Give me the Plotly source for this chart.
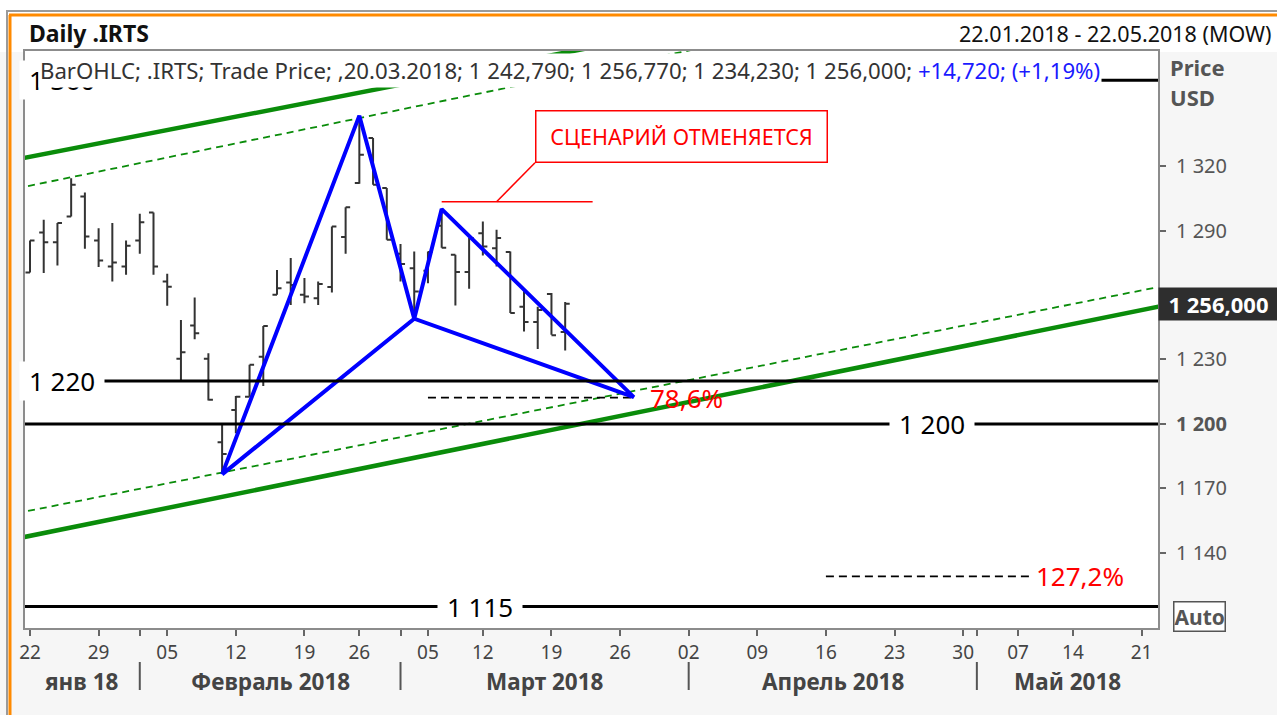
import plotly.graph_objects as go
import pandas as pd

# ---------------- data ----------------
dates = ["2018-01-22", "2018-01-23", "2018-01-24", "2018-01-25", "2018-01-26",
         "2018-01-29", "2018-01-30", "2018-01-31", "2018-02-01", "2018-02-02",
         "2018-02-05", "2018-02-06", "2018-02-07", "2018-02-08", "2018-02-09",
         "2018-02-12", "2018-02-13", "2018-02-14", "2018-02-15", "2018-02-16",
         "2018-02-19", "2018-02-20", "2018-02-21", "2018-02-22",
         "2018-02-26", "2018-02-27", "2018-02-28", "2018-03-01", "2018-03-02",
         "2018-03-05", "2018-03-06", "2018-03-07", "2018-03-09",
         "2018-03-12", "2018-03-13", "2018-03-14", "2018-03-15", "2018-03-16",
         "2018-03-19", "2018-03-20"]
opens = [1270.5, 1289.1, 1284.6, 1296.6, 1305.9,
         1285.4, 1273.3, 1273.3, 1285.4, 1298.4,
         1266.3, 1230.3, 1245.8, 1230.3, 1191.5,
         1206.5, 1212.7, 1231.3, 1260.1, 1265.8,
         1260.1, 1258.5, 1263.7, 1287.0,
         1312.1, 1333.1, 1309.8, 1279.2, 1272.5,
         1271.3, 1292.2, 1278.7, 1270.7,
         1288.8, 1281.8, 1280.0, 1254.6, 1247.4,
         1260.5, 1242.79]
highs = [1285.4, 1295.0, 1293.5, 1314.4, 1307.7,
         1291.1, 1293.5, 1285.4, 1297.8, 1298.4,
         1269.9, 1248.4, 1258.8, 1232.9, 1200.3,
         1213.0, 1227.5, 1245.6, 1271.7, 1277.2,
         1267.9, 1266.3, 1291.9, 1300.9,
         1343.3, 1333.1, 1309.8, 1283.8, 1280.3,
         1280.3, 1300.0, 1278.7, 1286.5,
         1294.2, 1290.4, 1280.3, 1262.4, 1254.6,
         1260.9, 1256.77]
lows = [1270.5, 1270.2, 1273.7, 1296.6, 1281.5,
        1273.0, 1266.3, 1269.4, 1279.2, 1269.4,
        1255.0, 1220.5, 1239.4, 1210.9, 1177.0,
        1195.7, 1212.7, 1217.7, 1260.1, 1255.4,
        1256.2, 1255.4, 1261.2, 1279.2,
        1311.8, 1311.3, 1285.7, 1266.3, 1249.5,
        1265.5, 1282.0, 1255.1, 1262.9,
        1278.4, 1273.3, 1251.6, 1243.0, 1234.9,
        1241.5, 1234.23]
closes = [1285.4, 1284.6, 1293.5, 1311.3, 1287.2,
          1276.1, 1275.1, 1282.9, 1293.9, 1273.3,
          1263.9, 1233.4, 1242.2, 1211.2, 1186.0,
          1212.7, 1227.5, 1245.6, 1263.2, 1264.7,
          1259.3, 1265.1, 1291.9, 1300.9,
          1325.3, 1311.3, 1285.7, 1274.4, 1261.6,
          1280.0, 1282.0, 1270.7, 1286.5,
          1282.6, 1286.5, 1251.6, 1247.4, 1253.0,
          1241.3, 1256.00]

holidays = ["2018-02-23", "2018-03-08", "2018-05-01", "2018-05-09"]

# harmonic pattern X-A-B-C-D (drawn as one polyline)
pattern_dates = ["2018-02-09", "2018-02-26", "2018-03-02", "2018-03-06",
                 "2018-03-27", "2018-03-02", "2018-02-09"]
pattern_values = [1176.5, 1343.5, 1249.0, 1300.0, 1212.5, 1249.0, 1176.5]

# horizontal levels
level_values = [1360, 1220, 1200, 1115]
level_labels = ["1 360", "1 220", "1 200", "1 115"]

# channel lines (two anchors each)
channel_dates = ["2018-01-19", "2018-05-23"]
upper_solid = [1323.1, 1427.6]
upper_dash = [1309.6, 1419.7]
lower_solid = [1146.6, 1255.6]
lower_dash = [1158.4, 1264.7]

fib786_dates = ["2018-03-05", "2018-03-27"]
fib786_value = 1212.2
fib1272_dates = ["2018-04-16", "2018-05-08"]
fib1272_value = 1129.0

cancel_dates = ["2018-03-06", "2018-03-22"]
cancel_value = 1303.4

tick_dates = ["2018-01-22", "2018-01-29", "2018-02-05", "2018-02-12", "2018-02-19",
              "2018-02-26", "2018-03-05", "2018-03-12", "2018-03-19", "2018-03-26",
              "2018-04-02", "2018-04-09", "2018-04-16", "2018-04-23", "2018-04-30",
              "2018-05-07", "2018-05-14", "2018-05-21"]
month_starts = ["2018-02-01", "2018-03-01", "2018-04-02", "2018-05-02"]
month_labels = ["янв 18", "Февраль 2018", "Март 2018", "Апрель 2018", "Май 2018"]

# ---------------- trading-day scale ----------------
cal = [d.strftime("%Y-%m-%d") for d in pd.bdate_range("2018-01-15", "2018-05-31")]
cal = [d for d in cal if d not in holidays]
base = cal.index("2018-01-22")
pos = {d: i - base for i, d in enumerate(cal)}

X_RANGE = [-0.364, 82.2]
Y_RANGE = [1105.0, 1373.6]

# pixel layout helpers
L, R, T, B = 25, 1158, 51, 628
W, H = 1277, 715
def pxx(px):
    return (px - L) / (R - L)
def pxy(py):
    return (B - py) / (B - T)

FONT = "Noto Sans"
fig = go.Figure()

# channel lines
GREEN = "#0a8c0a"
cx = [pos[d] for d in channel_dates]
fig.add_trace(go.Scatter(x=cx, y=upper_solid, mode="lines", line=dict(color=GREEN, width=4.5), hoverinfo="skip"))
fig.add_trace(go.Scatter(x=cx, y=lower_solid, mode="lines", line=dict(color=GREEN, width=4.5), hoverinfo="skip"))
fig.add_trace(go.Scatter(x=cx, y=upper_dash, mode="lines", line=dict(color=GREEN, width=1.8, dash="7px,5px"), hoverinfo="skip"))
fig.add_trace(go.Scatter(x=cx, y=lower_dash, mode="lines", line=dict(color=GREEN, width=1.8, dash="7px,5px"), hoverinfo="skip"))

# horizontal levels
for v in level_values:
    fig.add_shape(type="line", xref="paper", yref="y", x0=0, x1=1, y0=v, y1=v,
                  line=dict(color="black", width=3), layer="above")

# fib dashed lines
fig.add_trace(go.Scatter(x=[pos[d] for d in fib786_dates], y=[fib786_value] * 2, mode="lines",
                         line=dict(color="black", width=1.8, dash="8px,5px"), hoverinfo="skip"))
fig.add_trace(go.Scatter(x=[pos[d] for d in fib1272_dates], y=[fib1272_value] * 2, mode="lines",
                         line=dict(color="black", width=1.8, dash="8px,5px"), hoverinfo="skip"))

# cancel level (red)
fig.add_trace(go.Scatter(x=[pos[d] for d in cancel_dates], y=[cancel_value] * 2, mode="lines",
                         line=dict(color="red", width=1.5), hoverinfo="skip"))

# OHLC bars
fig.add_trace(go.Ohlc(x=[pos[d] for d in dates], open=opens, high=highs, low=lows, close=closes,
                      increasing=dict(line=dict(color="#333333", width=2)),
                      decreasing=dict(line=dict(color="#333333", width=2)),
                      tickwidth=0.33, hoverinfo="skip"))

# pattern
fig.add_trace(go.Scatter(x=[pos[d] for d in pattern_dates], y=pattern_values, mode="lines",
                         line=dict(color="#0000ff", width=4), hoverinfo="skip"))

# red connector from cancel line to box corner
box_x0, box_x1 = 36.8, 58.1
box_y0, box_y1 = 1321.6, 1346.3
fig.add_shape(type="line", xref="x", yref="y", x0=pos["2018-03-13"], y0=cancel_value,
              x1=box_x0, y1=box_y0, line=dict(color="red", width=1.5))

annotations = []
# level labels
label_px = {1360: 62, 1220: 62, 1200: 932, 1115: 480}
for v, t in zip(level_values, level_labels):
    annotations.append(dict(text=t, xref="paper", yref="y", x=pxx(label_px[v]), y=v,
                            showarrow=False, font=dict(family=FONT, size=26, color="black"),
                            bgcolor="white", width=82, xanchor="center", yanchor="middle"))

# legend/info line
annotations.append(dict(
    text="BarOHLC; .IRTS; Trade Price; ,20.03.2018; 1 242,790; 1 256,770; 1 234,230; 1 256,000; "
         "<span style='color:#1a1aff'>+14,720; (+1,19%)</span>",
    xref="paper", yref="paper", x=pxx(38), y=pxy(70), xanchor="left", yanchor="middle",
    showarrow=False, bgcolor="white", font=dict(family=FONT, size=22.2, color="#333333")))

# box text
annotations.append(dict(text="СЦЕНАРИЙ ОТМЕНЯЕТСЯ", xref="x", yref="y",
                        x=(box_x0 + box_x1) / 2, y=(box_y0 + box_y1) / 2,
                        showarrow=False, font=dict(family=FONT, size=21.5, color="red"),
                        bordercolor="red", borderwidth=1.5, borderpad=0,
                        width=290, height=50, bgcolor="white"))
# fib labels
annotations.append(dict(text="78,6%", xref="x", yref="y", x=pos[fib786_dates[1]], y=fib786_value,
                        xanchor="left", yanchor="middle", xshift=14, showarrow=False,
                        font=dict(family=FONT, size=26, color="red")))
annotations.append(dict(text="127,2%", xref="x", yref="y", x=pos[fib1272_dates[1]], y=fib1272_value,
                        xanchor="left", yanchor="middle", xshift=2, showarrow=False,
                        font=dict(family=FONT, size=26, color="red")))

# header
annotations.append(dict(text="<b>Daily .IRTS</b>", xref="paper", yref="paper", x=pxx(27), y=pxy(33),
                        xanchor="left", yanchor="middle", showarrow=False,
                        font=dict(family=FONT, size=23, color="#111111")))
annotations.append(dict(text="22.01.2018 - 22.05.2018 (MOW)", xref="paper", yref="paper",
                        x=pxx(1273), y=pxy(33), xanchor="right", yanchor="middle", showarrow=False,
                        font=dict(family=FONT, size=21.5, color="#111111")))
# right axis captions
annotations.append(dict(text="<b>Price</b>", xref="paper", yref="paper", x=pxx(1168), y=pxy(67),
                        xanchor="left", yanchor="middle", showarrow=False,
                        font=dict(family=FONT, size=22, color="#555555")))
annotations.append(dict(text="<b>USD</b>", xref="paper", yref="paper", x=pxx(1168), y=pxy(97),
                        xanchor="left", yanchor="middle", showarrow=False,
                        font=dict(family=FONT, size=22, color="#555555")))
annotations.append(dict(text="<b>Auto</b>", xref="paper", yref="paper", x=pxx(1173), y=pxy(616),
                        xanchor="left", yanchor="middle", showarrow=False, bgcolor="white",
                        bordercolor="#555555", borderwidth=1.5, borderpad=0,
                        font=dict(family=FONT, size=21, color="#555555")))
# last price label
annotations.append(dict(text="<b>1 256,000</b>", xref="paper", yref="y", x=pxx(1158), y=closes[-1],
                        xanchor="left", yanchor="middle", showarrow=False, bgcolor="#2e2e2e",
                        width=117, borderpad=1, font=dict(family=FONT, size=22, color="white")))

# month labels & separators
edges = [X_RANGE[0]] + [pos[d] for d in month_starts] + [X_RANGE[1]]
for i, t in enumerate(month_labels):
    annotations.append(dict(text="<b>" + t + "</b>", xref="x", yref="paper",
                            x=(edges[i] + edges[i + 1]) / 2, y=pxy(664), showarrow=False,
                            xanchor="center", yanchor="top",
                            font=dict(family=FONT, size=22.5, color="#444444")))
for d in month_starts:
    fig.add_shape(type="line", xref="x", yref="paper", x0=pos[d], x1=pos[d],
                  y0=pxy(662), y1=pxy(690), line=dict(color="#555555", width=2))

# frame decorations
fig.add_shape(type="rect", xref="paper", yref="paper", x0=pxx(0), x1=pxx(W), y0=pxy(52), y1=pxy(0),
              fillcolor="white", line=dict(width=0), layer="below")
fig.add_shape(type="line", xref="paper", yref="paper", x0=pxx(6), x1=pxx(W), y0=pxy(11), y1=pxy(11),
              line=dict(color="#9a9a9a", width=2))
fig.add_shape(type="line", xref="paper", yref="paper", x0=pxx(9), x1=pxx(W), y0=pxy(15), y1=pxy(15),
              line=dict(color="#ff8a00", width=3))
fig.add_shape(type="line", xref="paper", yref="paper", x0=pxx(10), x1=pxx(10), y0=pxy(15), y1=pxy(H),
              line=dict(color="#ff8a00", width=3))
fig.add_shape(type="line", xref="paper", yref="paper", x0=pxx(7), x1=pxx(7), y0=pxy(11), y1=pxy(H),
              line=dict(color="#9a9a9a", width=2))

ytick_vals = [1140, 1170, 1200, 1230, 1260, 1290, 1320]
ytick_text = ["1 140", "1 170", "<b>1 200</b>", "1 230", "1 260", "1 290", "1 320"]

fig.update_layout(
    width=W, height=H,
    margin=dict(l=L, r=W - R, t=T, b=H - B),
    paper_bgcolor="#f6f6f6", plot_bgcolor="white",
    showlegend=False,
    annotations=annotations,
    xaxis=dict(range=X_RANGE, tickvals=[pos[d] for d in tick_dates] + [pos[d] for d in month_starts],
               ticktext=[d[-2:] for d in tick_dates] + [""] * len(month_starts),
               ticks="outside", ticklen=6, tickcolor="#666666", tickwidth=1.5,
               tickfont=dict(family=FONT, size=19, color="#444444"),
               showgrid=False, zeroline=False, showline=True, linecolor="#8c8c8c", linewidth=2,
               mirror=True, rangeslider=dict(visible=False), fixedrange=True),
    yaxis=dict(range=Y_RANGE, side="right", tickvals=ytick_vals, ticktext=ytick_text,
               ticks="outside", ticklen=6, tickcolor="#666666", tickwidth=1.5,
               ticklabelstandoff=6,
               tickfont=dict(family=FONT, size=20, color="#555555"),
               showgrid=False, zeroline=False, showline=True, linecolor="#8c8c8c", linewidth=2,
               mirror=True, fixedrange=True),
)

fig.write_html("out.html", config={"displayModeBar": False},
               post_script="document.body.style.margin='0';")
